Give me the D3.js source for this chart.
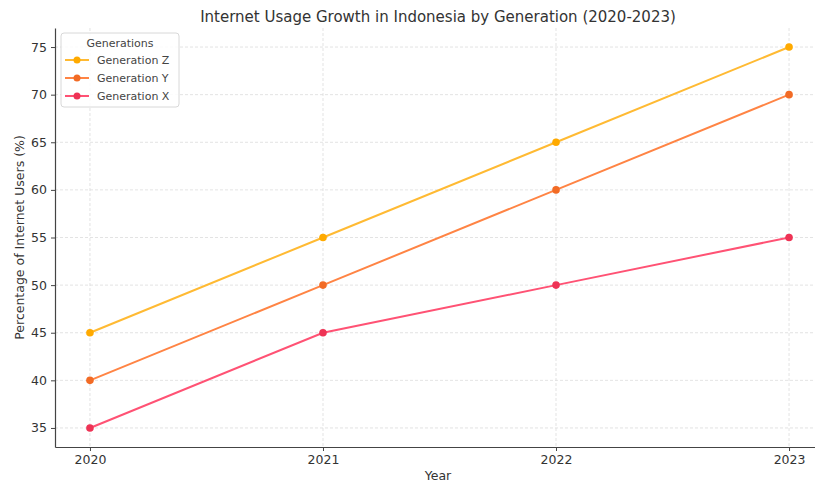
<!DOCTYPE html>
<html>
<head>
<meta charset="utf-8">
<script src="https://cdn.jsdelivr.net/npm/d3@7"></script>
<style>
  body { margin: 0; background: #fff; }
  text { font-family: "DejaVu Sans", sans-serif; }
</style>
</head>
<body>
<svg id="chart"></svg>
<script>
// Data
const years = [2020, 2021, 2022, 2023];
const genZ = [45, 55, 65, 75];
const genY = [40, 50, 60, 70];
const genX = [35, 45, 50, 55];
const yTicks = [35, 40, 45, 50, 55, 60, 65, 70, 75];

const series = [
  { name: "Generation Z", values: genZ, line: "#FFBA33", dot: "#FFAA00" },
  { name: "Generation Y", values: genY, line: "#FF8444", dot: "#F26B25" },
  { name: "Generation X", values: genX, line: "#FF5274", dot: "#EE3355" }
];

const W = 815, H = 485;
const margin = { top: 28, right: -9, bottom: 38, left: 55 };
const width = W - margin.left - margin.right;
const height = H - margin.top - margin.bottom;

const root = d3.select("#chart").attr("width", W).attr("height", H);
const svg = root.append("g")
  .attr("transform", "translate(" + margin.left + "," + margin.top + ")");

// Scales (5% padding like the original)
const x = d3.scaleLinear().domain([2019.85, 2023.15]).range([0, width]);
const y = d3.scaleLinear().domain([33, 77]).range([height, 0]);

// Grid
svg.append("g").selectAll("line")
  .data(yTicks).enter().append("line")
  .attr("x1", 0).attr("x2", width)
  .attr("y1", d => y(d)).attr("y2", d => y(d))
  .attr("stroke", "#dcdcdc").attr("stroke-width", 0.8)
  .attr("stroke-dasharray", "3,2");
svg.append("g").selectAll("line")
  .data(years).enter().append("line")
  .attr("y1", 0).attr("y2", height)
  .attr("x1", d => x(d)).attr("x2", d => x(d))
  .attr("stroke", "#dcdcdc").attr("stroke-width", 0.8)
  .attr("stroke-dasharray", "3,2");

// Axes
const xAxis = svg.append("g")
  .attr("transform", "translate(0," + height + ")")
  .call(d3.axisBottom(x).tickValues(years).tickFormat(d3.format("d"))
    .tickSize(4).tickSizeOuter(0).tickPadding(4));
const yAxis = svg.append("g")
  .call(d3.axisLeft(y).tickValues(yTicks).tickSize(4).tickSizeOuter(0).tickPadding(4));

[xAxis, yAxis].forEach(a => {
  a.select(".domain").attr("stroke", "#444").attr("stroke-width", 1.2);
  a.selectAll(".tick line").attr("stroke", "#444");
  a.selectAll(".tick text").attr("fill", "#333").style("font-size", "12.5px")
    .style("font-family", "DejaVu Sans, sans-serif");
});

// Lines and points
const line = d3.line().x((d, i) => x(years[i])).y(d => y(d));
series.forEach(s => {
  svg.append("path")
    .datum(s.values)
    .attr("fill", "none")
    .attr("stroke", s.line)
    .attr("stroke-width", 2)
    .attr("d", line);
  svg.selectAll(null)
    .data(s.values).enter().append("circle")
    .attr("cx", (d, i) => x(years[i]))
    .attr("cy", d => y(d))
    .attr("r", 3.8)
    .attr("fill", s.dot);
});

// Title and labels
root.append("text")
  .attr("x", 438).attr("y", 22)
  .attr("text-anchor", "middle")
  .attr("fill", "#333")
  .style("font-size", "15px")
  .text("Internet Usage Growth in Indonesia by Generation (2020-2023)");

root.append("text")
  .attr("x", 438).attr("y", 480)
  .attr("text-anchor", "middle")
  .attr("fill", "#333")
  .style("font-size", "12.5px")
  .text("Year");

root.append("text")
  .attr("transform", "translate(24," + (margin.top + height / 2) + ") rotate(-90)")
  .attr("text-anchor", "middle")
  .attr("fill", "#333")
  .style("font-size", "12.5px")
  .text("Percentage of Internet Users (%)");

// Legend
const legend = root.append("g").attr("transform", "translate(61,33)");
legend.append("rect")
  .attr("width", 118).attr("height", 74)
  .attr("rx", 3)
  .attr("fill", "#fff").attr("fill-opacity", 0.85)
  .attr("stroke", "#d8d8d8");
legend.append("text")
  .attr("x", 59).attr("y", 14)
  .attr("text-anchor", "middle")
  .attr("fill", "#444")
  .style("font-size", "11px")
  .text("Generations");
series.forEach((s, i) => {
  const g = legend.append("g").attr("transform", "translate(0," + (27 + i * 18) + ")");
  g.append("line").attr("x1", 4).attr("x2", 28).attr("stroke", s.line).attr("stroke-width", 2);
  g.append("circle").attr("cx", 16).attr("r", 3.5).attr("fill", s.dot);
  g.append("text").attr("x", 36).attr("y", 4)
    .attr("fill", "#444").style("font-size", "11px").text(s.name);
});
</script>
</body>
</html>
